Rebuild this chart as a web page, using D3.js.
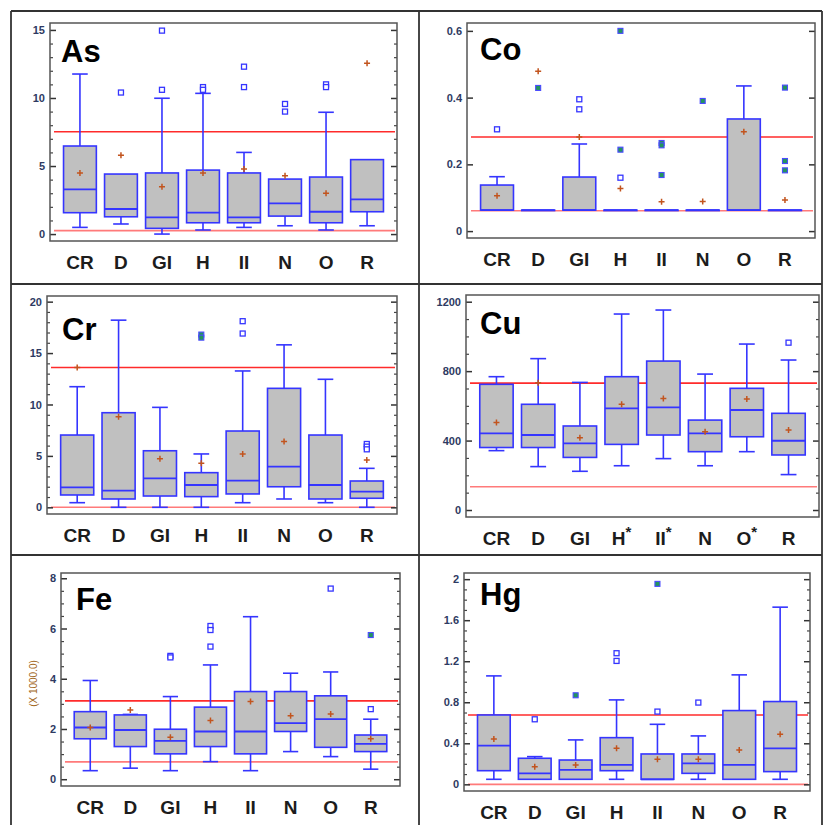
<!DOCTYPE html>
<html>
<head>
<meta charset="utf-8">
<script src="https://cdn.jsdelivr.net/npm/d3@7"></script>
<style>
  body { margin: 0; background: #fff; }
  svg { display: block; font-family: "Liberation Sans", Arial, sans-serif; }
</style>
</head>
<body>
<div id="container"></div>
<script>
var width = 823;
var height = 825;

// categories on the x axis
var categories = ["CR", "D", "GI", "H", "II", "N", "O", "R"];
var cuMarked = ["H", "II", "O"]; // labels that get a * in the Cu panel

// box stats per category: [whisker low, q1, median, q3, whisker high]
var asStats = [[0.49,1.57,3.28,6.47,11.76],[0.74,1.27,1.84,4.41,4.41],[0,0.42,1.23,4.49,9.98],[0.3,0.83,1.57,4.7,10.34],
  [0.49,0.83,1.23,4.49,6.0],[0.61,1.32,2.25,4.04,4.04],[0.3,0.83,1.64,4.19,8.95],[0.61,1.64,2.55,5.47,5.47]];
var asMeans = [4.49, 5.8, 3.48, 4.49, 4.78, 4.29, 2.99, 12.55];
var asOutliers = [[], [10.4], [14.95, 10.6], [10.8, 10.6], [12.3, 10.8], [9.56, 9.0], [11.0, 10.8], []];
var asFar = [[], [], [], [], [], [], [], []];
var asLimits = [7.52, 0.25];

var coStats = [[0.063,0.063,0.063,0.138,0.163],[0.063,0.063,0.063,0.063,0.063],[0.063,0.063,0.063,0.162,0.261],[0.063,0.063,0.063,0.063,0.063],
  [0.063,0.063,0.063,0.063,0.063],[0.063,0.063,0.063,0.063,0.063],[0.063,0.063,0.063,0.336,0.435],[0.063,0.063,0.063,0.063,0.063]];
var coMeans = [0.106, 0.479, 0.282, 0.128, 0.088, 0.089, 0.298, 0.093];
var coOutliers = [[0.305], [], [0.395, 0.365], [0.16], [], [], [], []];
var coFar = [[], [0.429], [], [0.6, 0.244], [0.264, 0.257, 0.168], [0.39], [], [0.43, 0.21, 0.182]];
var coLimits = [0.282, 0.061];

var crStats = [[0.45,1.2,1.94,7.03,11.73],[0,0.81,1.62,9.2,18.2],[0,1.1,2.82,5.5,9.72],[0,1.04,2.17,3.37,5.19],
  [0.45,1.3,2.6,7.42,13.26],[0.81,2.0,3.95,11.57,15.8],[0.45,0.81,2.17,7.03,12.45],[0,0.88,1.52,2.56,3.79]];
var crMeans = [13.6, 8.8, 4.73, 4.28, 5.19, 6.39, null, 4.6];
var crOutliers = [[], [], [], [], [18.1, 16.9], [], [], [6.16, 5.9, 5.64]];
var crFar = [[], [], [], [16.8, 16.5], [], [], [], []];
var crLimits = [13.6, 0];

var cuStats = [[342,360,442,724,768],[250,360,432,609,872],[223,303,384,484,735],[255,378,586,768,1129],
  [296,432,591,858,1152],[255,336,442,518,783],[336,422,576,701,956],[204,317,399,557,864]];
var cuMeans = [504, 733, 416, 609, 643, 451, 639, 461];
var cuOutliers = [[], [], [], [], [], [], [], [964]];
var cuFar = [[], [], [], [], [], [], [], []];
var cuLimits = [731, 134];

var feStats = [[0.34,1.61,2.06,2.69,3.93],[0.44,1.3,1.96,2.56,2.58],[0.34,1.01,1.53,1.99,3.29],[0.7,1.3,1.9,2.87,4.55],
  [0.34,1.01,1.9,3.49,6.47],[1.1,1.9,2.23,3.49,4.22],[0.9,1.27,2.39,3.32,4.27],[0.4,1.1,1.41,1.76,2.39]];
var feMeans = [2.06, 2.76, 1.67, 2.34, 3.09, 2.53, 2.6, 1.61];
var feOutliers = [[], [], [4.91, 4.85], [6.1, 5.94, 5.28], [], [], [7.59], [2.79]];
var feFar = [[], [], [], [], [], [], [], [5.74]];
var feLimits = [3.12, 0.69];

var hgStats = [[0.049,0.133,0.377,0.676,1.057],[0.049,0.049,0.107,0.254,0.27],[0.049,0.049,0.14,0.237,0.433],[0.049,0.133,0.189,0.455,0.823],
  [0.049,0.049,0.049,0.296,0.585],[0.049,0.107,0.205,0.296,0.472],[0.049,0.049,0.189,0.719,1.067],[0.049,0.124,0.351,0.807,1.727]];
var hgMeans = [0.442, 0.172, 0.189, 0.351, 0.244, 0.244, 0.335, 0.488];
var hgOutliers = [[], [0.634], [], [1.278, 1.203], [0.709], [0.797], [], []];
var hgFar = [[], [], [0.868], [], [1.954], [], [], []];
var hgLimits = [0.676, 0];

// panel layout: plot rect, y domain, tick steps, title spot
var panels = [
  {name:"As", stats:asStats, means:asMeans, outs:asOutliers, far:asFar, limits:asLimits,
   x0:50, x1:397, y0:23, y1:241, dom:[-0.51, 15.51], major:5, minor:1, tx:61, ty:62},
  {name:"Co", stats:coStats, means:coMeans, outs:coOutliers, far:coFar, limits:coLimits,
   x0:467, x1:815, y0:23, y1:238, dom:[-0.0207, 0.6236], major:0.2, minor:null, tx:480, ty:60},
  {name:"Cr", stats:crStats, means:crMeans, outs:crOutliers, far:crFar, limits:crLimits,
   x0:47, x1:397, y0:296, y1:514, dom:[-0.65, 20.55], major:5, minor:1, tx:62, ty:340},
  {name:"Cu", stats:cuStats, means:cuMeans, outs:cuOutliers, far:cuFar, limits:cuLimits,
   x0:466, x1:819, y0:295, y1:517, dom:[-40.3, 1238.6], major:400, minor:100, tx:480, ty:334, star:true},
  {name:"Fe", stats:feStats, means:feMeans, outs:feOutliers, far:feFar, limits:feLimits,
   x0:61, x1:400, y0:573, y1:786, dom:[-0.27, 8.21], major:2, minor:0.5, tx:76, ty:610, ylab:"(X 1000.0)"},
  {name:"Hg", stats:hgStats, means:hgMeans, outs:hgOutliers, far:hgFar, limits:hgLimits,
   x0:464, x1:810, y0:573, y1:791, dom:[-0.065, 2.06], major:0.4, minor:0.1, tx:480, ty:605}
];

var boxColor = "#3535ff";

var svg = d3.select("div#container")
  .append("svg")
  .attr("width", width)
  .attr("height", height);

svg.append("rect").attr("width", width).attr("height", height).attr("fill", "#fff");

// table grid lines around the panels
var grid = svg.append("g").attr("stroke", "#333").attr("stroke-width", 1.8);
[[11, 11, 822, 11], [11, 284, 822, 284], [11, 555, 822, 555],
 [11, 11, 11, 825], [419, 11, 419, 825], [822, 11, 822, 825]].forEach(function(l){
  grid.append("line").attr("x1", l[0]).attr("y1", l[1]).attr("x2", l[2]).attr("y2", l[3]);
});

function fmt(v){
  return String(+v.toFixed(2));
}

panels.forEach(function(p){
  var G = svg.append("g").attr("class", "panel-" + p.name);

  var x = d3.scalePoint().domain(categories).range([p.x0, p.x1]).padding(0.73);
  var y = d3.scaleLinear().domain(p.dom).range([p.y1, p.y0]);
  var step = x.step();
  var bw = step * 0.8;
  var cap = step * 0.38;

  G.append("rect")
    .attr("x", p.x0).attr("y", p.y0)
    .attr("width", p.x1 - p.x0).attr("height", p.y1 - p.y0)
    .attr("fill", "#fff");

  // reference lines
  G.selectAll("line.limit")
    .data(p.limits)
    .enter()
    .append("line")
    .attr("class", "limit")
    .attr("x1", p.x0 + 4).attr("x2", p.x1 - 2)
    .attr("y1", function(d){ return y(d); })
    .attr("y2", function(d){ return y(d); })
    .attr("stroke", function(d, i){ return i == 0 ? "#ff2b2b" : "#ff7a7a"; })
    .attr("stroke-width", 1.6);

  var rows = categories.map(function(c, i){
    return {cat: c, s: p.stats[i], mean: p.means[i], outs: p.outs[i], far: p.far[i]};
  });

  var bx = G.selectAll("g.box")
    .data(rows)
    .enter()
    .append("g")
    .attr("class", "box")
    .attr("transform", function(d){ return "translate(" + x(d.cat) + ",0)"; });

  bx.each(function(d){
    var g = d3.select(this);
    var s = d.s;
    // whiskers
    if (s[4] > s[3]) {
      g.append("line").attr("x1", 0).attr("x2", 0).attr("y1", y(s[3])).attr("y2", y(s[4]))
        .attr("stroke", boxColor).attr("stroke-width", 1.6);
      g.append("line").attr("x1", -cap/2).attr("x2", cap/2).attr("y1", y(s[4])).attr("y2", y(s[4]))
        .attr("stroke", boxColor).attr("stroke-width", 1.6);
    }
    if (s[0] < s[1]) {
      g.append("line").attr("x1", 0).attr("x2", 0).attr("y1", y(s[1])).attr("y2", y(s[0]))
        .attr("stroke", boxColor).attr("stroke-width", 1.6);
      g.append("line").attr("x1", -cap/2).attr("x2", cap/2).attr("y1", y(s[0])).attr("y2", y(s[0]))
        .attr("stroke", boxColor).attr("stroke-width", 1.6);
    }
    // box
    g.append("rect")
      .attr("x", -bw/2).attr("width", bw)
      .attr("y", y(s[3])).attr("height", Math.max(y(s[1]) - y(s[3]), 0.5))
      .attr("fill", "#c0c0c0")
      .attr("stroke", boxColor).attr("stroke-width", 1.6);
    g.append("line").attr("x1", -bw/2).attr("x2", bw/2).attr("y1", y(s[2])).attr("y2", y(s[2]))
      .attr("stroke", boxColor).attr("stroke-width", 1.8);

    // outliers
    d.outs.forEach(function(v){
      g.append("rect").attr("x", -2.5).attr("y", y(v) - 2.5).attr("width", 5).attr("height", 5)
        .attr("fill", "#fff").attr("stroke", boxColor).attr("stroke-width", 1.3);
    });
    d.far.forEach(function(v){
      g.append("rect").attr("x", -2.5).attr("y", y(v) - 2.5).attr("width", 5).attr("height", 5)
        .attr("fill", "#23955c").attr("stroke", "#4a4aff").attr("stroke-width", 1.1);
    });

    // mean marker
    if (d.mean != null) {
      var my = y(d.mean);
      g.append("path")
        .attr("d", "M-3," + my + "H3M0," + (my - 3) + "V" + (my + 3))
        .attr("stroke", "#c2541e").attr("stroke-width", 1.5).attr("fill", "none");
    }
  });

  // axes
  var ticks = d3.range(0, p.dom[1] + 1e-9, p.major);
  var yLeft = d3.axisLeft(y).tickValues(ticks).tickSizeInner(-6).tickSizeOuter(0).tickPadding(5).tickFormat(fmt);
  var yRight = d3.axisRight(y).tickValues(ticks).tickSizeInner(-6).tickSizeOuter(0).tickFormat("");

  var ax = G.append("g").attr("transform", "translate(" + p.x0 + ",0)").call(yLeft);
  ax.select(".domain").remove();
  ax.selectAll("line").attr("stroke", "#333").attr("stroke-width", 1.5);
  ax.selectAll("text")
    .attr("font-size", 11).attr("font-weight", "bold")
    .attr("font-family", "'Liberation Sans', Arial, sans-serif")
    .attr("fill", "#2e3a62");

  var axr = G.append("g").attr("transform", "translate(" + p.x1 + ",0)").call(yRight);
  axr.select(".domain").remove();
  axr.selectAll("line").attr("stroke", "#333").attr("stroke-width", 1.5);

  if (p.minor) {
    var mticks = d3.range(0, p.dom[1] + 1e-9, p.minor).filter(function(v){
      return Math.abs(v / p.major - Math.round(v / p.major)) > 1e-6;
    });
    [[d3.axisLeft, p.x0], [d3.axisRight, p.x1]].forEach(function(a){
      var m = G.append("g").attr("transform", "translate(" + a[1] + ",0)")
        .call(a[0](y).tickValues(mticks).tickSizeInner(-3).tickSizeOuter(0).tickFormat(""));
      m.select(".domain").remove();
      m.selectAll("line").attr("stroke", "#444").attr("stroke-width", 1.2);
    });
  }

  // frame
  G.append("rect")
    .attr("x", p.x0).attr("y", p.y0)
    .attr("width", p.x1 - p.x0).attr("height", p.y1 - p.y0)
    .attr("fill", "none").attr("stroke", "#555").attr("stroke-width", 1.5);

  // category labels
  var lab = G.selectAll("text.cat")
    .data(categories)
    .enter()
    .append("text")
    .attr("class", "cat")
    .attr("x", function(d){ return x(d); })
    .attr("y", p.y1 + 28)
    .attr("text-anchor", "middle")
    .attr("font-size", 19).attr("font-weight", "bold")
    .attr("fill", "#1c1c1c")
    .text(function(d){ return d; });
  if (p.star) {
    lab.filter(function(d){ return cuMarked.indexOf(d) >= 0; })
      .append("tspan").attr("dy", -8).attr("font-size", 15).text("*");
  }

  // element name
  G.append("text")
    .attr("x", p.tx).attr("y", p.ty)
    .attr("font-size", 31).attr("font-weight", "bold")
    .attr("fill", "#000")
    .text(p.name);

  if (p.ylab) {
    G.append("text")
      .attr("transform", "translate(37," + ((p.y0 + p.y1) / 2 + 4) + ") rotate(-90)")
      .attr("text-anchor", "middle")
      .attr("font-size", 10)
      .attr("fill", "#a2671e")
      .text(p.ylab);
  }
});
</script>
</body>
</html>
